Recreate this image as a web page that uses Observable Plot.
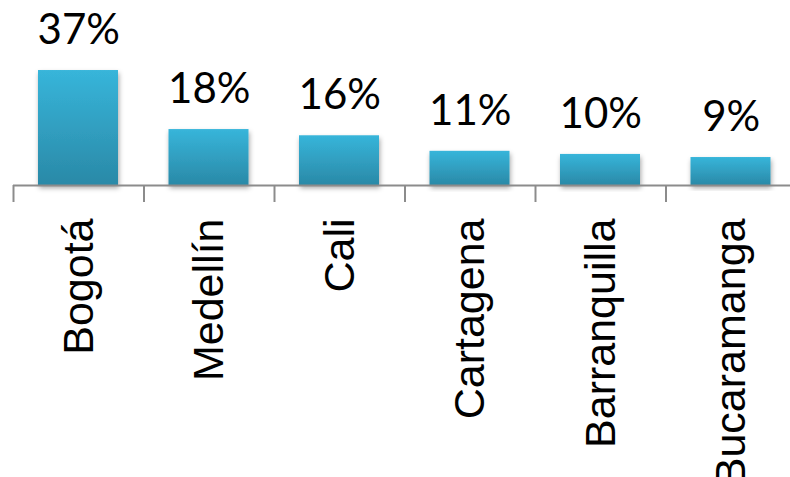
<!DOCTYPE html>
<html>
<head>
<meta charset="utf-8">
<script src="https://cdn.jsdelivr.net/npm/d3@7"></script>
<script src="https://cdn.jsdelivr.net/npm/@observablehq/plot@0.6"></script>
<style>
  html, body { margin: 0; padding: 0; background: #fff; }
</style>
</head>
<body>
<div id="chart"></div>
<script>
const cities = ["Bogotá", "Medellín", "Cali", "Cartagena", "Barranquilla", "Bucaramanga"];
const shares = [37, 18, 16, 11, 10, 9];
const valueLabels = ["37%", "18%", "16%", "11%", "10%", "9%"];

const data = cities.map((c, i) => ({i, city: c, value: shares[i], label: valueLabels[i]}));
const boundaries = d3.range(cities.length + 1);
const centers = cities.map((c, i) => i + 0.5);

const plot = Plot.plot({
  width: 790,
  height: 477,
  marginLeft: 13,
  marginRight: 0,
  marginTop: 0,
  marginBottom: 292,
  x: {domain: [0, cities.length], range: [13, 796], axis: null, label: null},
  y: {domain: [0, 40], range: [185, 60.7], axis: null, label: null},
  style: {background: "#fff", overflow: "visible"},
  marks: [
    Plot.rectY(data, {
      x1: "i", x2: d => d.i + 1, y1: 0, y2: "value",
      insetLeft: 25, insetRight: 25.5,
      fill: "url(#barGrad)"
    }),
    Plot.ruleY([0], {stroke: "#8c8c8c", strokeWidth: 2}),
    Plot.axisX(boundaries, {
      anchor: "bottom", tickSize: 17, tickFormat: () => "", label: null,
      stroke: "#8c8c8c", strokeWidth: 2
    }),
    Plot.axisX(centers, {
      anchor: "bottom", tickSize: 0, tickPadding: 33, tickRotate: -90, label: null,
      tickFormat: v => cities[Math.floor(v)],
      fontSize: 43, fontFamily: "Liberation Sans", fill: "#000"
    }),
    Plot.text(data, {
      x: d => d.i + 0.5, y: "value", text: "label",
      dy: -40, fontSize: 42, fontFamily: "Lato", fill: "#000"
    })
  ]
});

const svg = d3.select(plot);
const defs = svg.insert("defs", ":first-child");
const grad = defs.append("linearGradient").attr("id", "barGrad")
  .attr("x1", 0).attr("y1", 0).attr("x2", 0).attr("y2", 1);
grad.append("stop").attr("offset", "0%").attr("stop-color", "#37b5da");
grad.append("stop").attr("offset", "100%").attr("stop-color", "#2a89a7");
const f = defs.append("filter").attr("id", "barShadow")
  .attr("x", "-20%").attr("y", "-20%").attr("width", "140%").attr("height", "140%");
f.append("feDropShadow").attr("dx", 1).attr("dy", 3).attr("stdDeviation", 2.5)
  .attr("flood-color", "#000").attr("flood-opacity", 0.35);
svg.selectAll("rect").filter(function() { return this.getAttribute("fill") === "url(#barGrad)" || this.parentNode.getAttribute("fill") === "url(#barGrad)"; })
  .attr("filter", "url(#barShadow)");

document.getElementById("chart").appendChild(plot);
</script>
</body>
</html>
